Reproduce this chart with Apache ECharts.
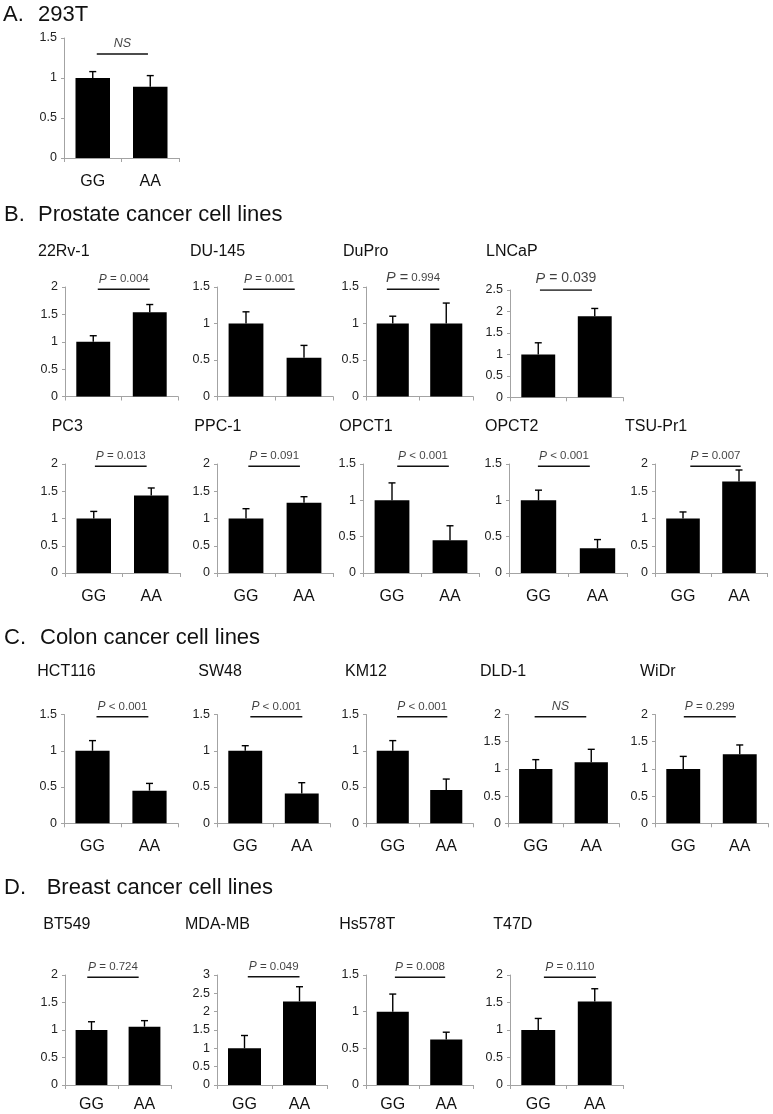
<!DOCTYPE html>
<html><head><meta charset="utf-8">
<script src="https://cdn.jsdelivr.net/npm/echarts@6/dist/echarts.min.js"></script>
<style>html,body{margin:0;padding:0;background:#fff}#c{width:773px;height:1114px}</style>
</head><body><div id="c"></div>
<script>
// ---------- data ----------
const genotypes = ['GG', 'AA'];
const cellLines = ['293T', '22Rv-1', 'DU-145', 'DuPro', 'LNCaP', 'PC3', 'PPC-1', 'OPCT1', 'OPCT2', 'TSU-Pr1',
  'HCT116', 'SW48', 'KM12', 'DLD-1', 'WiDr', 'BT549', 'MDA-MB', 'Hs578T', 'T47D'];
const meanGG   = [1, 1, 1, 1, 1, 1, 1, 1, 1, 1, 1, 1, 1, 1, 1, 1, 1, 1, 1];
const errTopGG = [1.08, 1.11, 1.16, 1.10, 1.27, 1.13, 1.18, 1.24, 1.14, 1.12, 1.14, 1.07, 1.14, 1.17, 1.23, 1.15, 1.35, 1.24, 1.21];
const meanAA   = [0.89, 1.54, 0.53, 1.00, 1.89, 1.42, 1.29, 0.45, 0.34, 1.68, 0.45, 0.41, 0.46, 1.12, 1.27, 1.06, 2.28, 0.62, 1.52];
const errTopAA = [1.03, 1.68, 0.70, 1.28, 2.07, 1.56, 1.40, 0.65, 0.46, 1.89, 0.55, 0.56, 0.61, 1.36, 1.44, 1.17, 2.68, 0.72, 1.75];
const yMax     = [1.5, 2, 1.5, 1.5, 2.5, 2, 2, 1.5, 1.5, 2, 1.5, 1.5, 1.5, 2, 2, 2, 3, 1.5, 2];
const yInterval = 0.5;
const pLabels = ['NS', 'P = 0.004', 'P = 0.001', 'P = 0.994', 'P = 0.039', 'P = 0.013', 'P = 0.091', 'P < 0.001',
  'P < 0.001', 'P = 0.007', 'P < 0.001', 'P < 0.001', 'P < 0.001', 'NS', 'P = 0.299', 'P = 0.724', 'P = 0.049',
  'P = 0.008', 'P = 0.110'];
const panelLetters = ['A.', 'B.', 'C.', 'D.'];
const panelTitles = ['293T', 'Prostate cancer cell lines', 'Colon cancer cell lines', 'Breast cancer cell lines'];

// ---------- layout (pixels) ----------
const layout = [
  {l:64, r:179, t:38, z:158, tx:null, ty:null, sx0:0.57, sx1:1.46, sv:1.3, xl:true, lm:16, ps:'ns'},
  {l:65, r:178, t:287, z:396.5, tx:38, ty:256.7, sx0:0.58, sx1:1.50, sv:1.96, xl:false, lm:15, ps:'n'},
  {l:217, r:333, t:287, z:396.5, tx:190, ty:256.7, sx0:0.45, sx1:1.34, sv:1.47, xl:false, lm:15, ps:'n'},
  {l:366, r:473, t:287, z:396.5, tx:343, ty:256.7, sx0:0.39, sx1:1.37, sv:1.47, xl:false, lm:15, ps:'mix'},
  {l:510, r:623, t:290, z:397.3, tx:486, ty:256.7, sx0:0.53, sx1:1.45, sv:2.5, xl:false, lm:15, ps:'big'},
  {l:65, r:180, t:464, z:573, tx:51.7, ty:431.7, sx0:0.52, sx1:1.42, sv:1.96, xl:true, lm:16, ps:'n'},
  {l:217, r:333, t:464, z:573, tx:194.3, ty:431.7, sx0:0.54, sx1:1.43, sv:1.96, xl:true, lm:16, ps:'n'},
  {l:363, r:479, t:464, z:573, tx:339.3, ty:431.7, sx0:0.59, sx1:1.48, sv:1.47, xl:true, lm:16, ps:'n'},
  {l:509, r:627, t:464, z:573, tx:485, ty:431.7, sx0:0.49, sx1:1.37, sv:1.47, xl:true, lm:16, ps:'n'},
  {l:655, r:767, t:464, z:573, tx:625, ty:431.7, sx0:0.63, sx1:1.53, sv:1.96, xl:true, lm:16, ps:'n'},
  {l:64, r:178, t:714.5, z:823.3, tx:37.3, ty:677, sx0:0.57, sx1:1.48, sv:1.47, xl:true, lm:15, ps:'n'},
  {l:217, r:330, t:714.5, z:823.3, tx:198.3, ty:677, sx0:0.59, sx1:1.51, sv:1.47, xl:true, lm:15, ps:'n'},
  {l:366, r:473, t:714.5, z:823.3, tx:345, ty:677, sx0:0.58, sx1:1.52, sv:1.47, xl:true, lm:15, ps:'n'},
  {l:508, r:619, t:714.5, z:823.3, tx:480, ty:677, sx0:0.48, sx1:1.41, sv:1.96, xl:true, lm:15, ps:'ns'},
  {l:655, r:768, t:714.5, z:823.3, tx:640, ty:677, sx0:0.51, sx1:1.43, sv:1.96, xl:true, lm:15, ps:'n'},
  {l:65, r:171, t:975, z:1085, tx:43.3, ty:930, sx0:0.42, sx1:1.39, sv:1.96, xl:true, lm:12, ps:'n'},
  {l:217, r:327, t:975, z:1085, tx:185, ty:930, sx0:0.56, sx1:1.50, sv:2.95, xl:true, lm:12, ps:'n'},
  {l:366, r:473, t:975, z:1085, tx:339.3, ty:930, sx0:0.54, sx1:1.48, sv:1.47, xl:true, lm:12, ps:'n'},
  {l:510, r:623, t:975, z:1085, tx:493.3, ty:930, sx0:0.60, sx1:1.52, sv:1.96, xl:true, lm:12, ps:'n'}
];
const panelPos = [{x:3, tx:38, y:21.7}, {x:4, tx:38, y:221.7}, {x:4, tx:40, y:645}, {x:4, tx:46.7, y:895}];

const FONT = '"Liberation Sans", Arial, sans-serif';
const AXIS_COLOR = '#a3a3a3';

function pFormatter(label, style) {
  if (style === 'ns') return '{i|' + label + '}';
  const p = label.charAt(0), rest = label.slice(1);
  if (style === 'mix') {
    const op = rest.slice(0, 2), num = rest.slice(2);
    return '{pb|' + p + '}{ob|' + op + '}{n|' + num + '}';
  }
  if (style === 'big') return '{pb|' + p + '}{nb|' + rest + '}';
  return '{p|' + p + '}{n|' + rest + '}';
}
const richStyles = {
  i: {fontStyle: 'italic', fontSize: 12.5, fontFamily: FONT, color: '#111'},
  p: {fontStyle: 'italic', fontSize: 12, fontFamily: FONT, color: '#111'},
  n: {fontSize: 11.5, fontFamily: FONT, color: '#111'},
  pb: {fontStyle: 'italic', fontSize: 14.5, fontFamily: FONT, color: '#111'},
  ob: {fontSize: 14.5, fontFamily: FONT, color: '#111'},
  nb: {fontSize: 14, fontFamily: FONT, color: '#111'}
};

const grids = [], xAxes = [], yAxes = [], series = [], graphics = [];

cellLines.forEach((name, i) => {
  const L = layout[i];
  grids.push({left: L.l, top: L.t, width: L.r - L.l, height: L.z - L.t, containLabel: false});
  xAxes.push({
    type: 'category', gridIndex: i, data: genotypes,
    axisLine: {show: true, lineStyle: {color: AXIS_COLOR, width: 1}},
    axisTick: {show: true, length: 4, lineStyle: {color: AXIS_COLOR}},
    axisLabel: {show: L.xl, fontSize: 16, fontFamily: FONT, color: '#111', margin: L.lm}
  });
  xAxes.push({type: 'value', gridIndex: i, min: 0, max: 2, show: false});
  yAxes.push({
    type: 'value', gridIndex: i, min: 0, max: yMax[i], interval: yInterval,
    axisLine: {show: true, lineStyle: {color: AXIS_COLOR, width: 1}},
    axisTick: {show: true, length: 3, lineStyle: {color: AXIS_COLOR}},
    axisLabel: {fontSize: 12.5, fontFamily: FONT, color: '#222', margin: 7},
    splitLine: {show: false}
  });
  series.push({
    type: 'bar', xAxisIndex: 2 * i, yAxisIndex: i,
    data: [meanGG[i], meanAA[i]],
    barCategoryGap: '40%',
    itemStyle: {color: '#000'}, silent: true, z: 2
  });
  series.push({
    type: 'custom', xAxisIndex: 2 * i, yAxisIndex: i, z: 3, silent: true,
    data: [[0, meanGG[i], errTopGG[i]], [1, meanAA[i], errTopAA[i]]],
    renderItem: function (params, api) {
      const c = api.value(0);
      const p0 = api.coord([c, api.value(1)]);
      const p1 = api.coord([c, api.value(2)]);
      const st = {stroke: '#000', lineWidth: 1.4};
      return {type: 'group', children: [
        {type: 'line', shape: {x1: p0[0], y1: p0[1], x2: p1[0], y2: p1[1]}, style: st},
        {type: 'line', shape: {x1: p1[0] - 3.5, y1: p1[1], x2: p1[0] + 3.5, y2: p1[1]}, style: st}
      ]};
    }
  });
  series.push({
    type: 'line', xAxisIndex: 2 * i + 1, yAxisIndex: i, silent: true, z: 3,
    data: [[L.sx0, L.sv], [L.sx1, L.sv]], symbol: 'none',
    lineStyle: {color: '#111', width: 1.5}
  });
  series.push({
    type: 'scatter', xAxisIndex: 2 * i + 1, yAxisIndex: i, silent: true, z: 4,
    data: [[(L.sx0 + L.sx1) / 2, L.sv]], symbolSize: 0,
    label: {show: true, position: 'top', distance: 4,
      formatter: () => pFormatter(pLabels[i], L.ps), rich: richStyles}
  });
  if (L.tx !== null) {
    graphics.push({type: 'text', left: L.tx, top: L.ty - 13.5,
      style: {text: name, font: '16px ' + FONT, fill: '#111'}});
  }
});

panelLetters.forEach((letter, k) => {
  const P = panelPos[k];
  graphics.push({type: 'text', left: P.x, top: P.y - 18,
    style: {text: letter, font: '22px ' + FONT, fill: '#111'}});
  graphics.push({type: 'text', left: P.tx, top: P.y - 18,
    style: {text: panelTitles[k], font: '22px ' + FONT, fill: '#111'}});
});

const chart = echarts.init(document.getElementById('c'), null, {renderer: 'canvas'});
chart.setOption({
  animation: false,
  backgroundColor: '#fff',
  grid: grids, xAxis: xAxes, yAxis: yAxes, series: series,
  graphic: graphics
});
</script>
</body></html>
